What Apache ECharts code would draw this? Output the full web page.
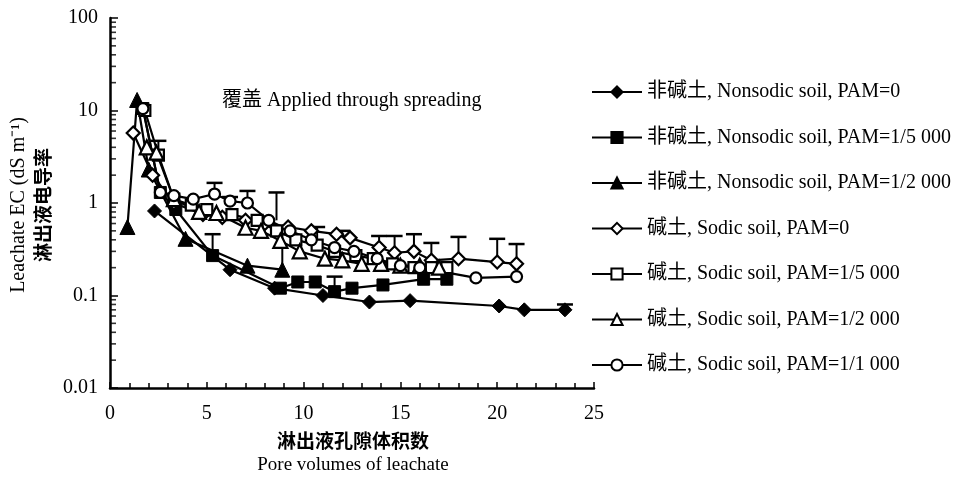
<!DOCTYPE html>
<html>
<head>
<meta charset="utf-8">
<script src="https://cdn.jsdelivr.net/npm/echarts@6/dist/echarts.min.js"></script>
<style>
  html, body { margin: 0; padding: 0; background: #fff; }
  #chart { width: 960px; height: 484px; }
</style>
</head>
<body>
<div id="chart"></div>
<script>
// series names (legend order)
const seriesNames = [
  '非碱土, Nonsodic soil, PAM=0',
  '非碱土, Nonsodic soil, PAM=1/5 000',
  '非碱土, Nonsodic soil, PAM=1/2 000',
  '碱土, Sodic soil, PAM=0',
  '碱土, Sodic soil, PAM=1/5 000',
  '碱土, Sodic soil, PAM=1/2 000',
  '碱土, Sodic soil, PAM=1/1 000'
]

// nonsodic, PAM=0 (filled diamond)
const nsPam0X = [2.3, 6.2, 8.5, 11.0, 13.4, 15.5, 20.1, 21.4, 23.5]
const nsPam0Y = [0.82, 0.19, 0.12, 0.1, 0.085, 0.088, 0.077, 0.07, 0.07]
// nonsodic, PAM=1/5000 (filled square)
const nsPam5000X = [1.7, 2.6, 3.4, 5.3, 8.8, 9.7, 10.6, 11.6, 12.5, 14.1, 16.2, 17.4]
const nsPam5000Y = [10.5, 1.3, 0.85, 0.27, 0.12, 0.14, 0.14, 0.11, 0.12, 0.13, 0.15, 0.15]
// nonsodic, PAM=1/2000 (filled triangle)
const nsPam2000X = [0.9, 1.4, 2.0, 3.9, 7.1, 8.9]
const nsPam2000Y = [0.55, 13, 2.3, 0.41, 0.21, 0.19]
// sodic, PAM=0 (open diamond)
const sPam0X = [1.2, 2.2, 3.3, 4.8, 5.8, 7.0, 8.0, 9.2, 10.4, 11.7, 12.4, 13.9, 14.7, 15.7, 16.6, 18.0, 20.0, 21.0]
const sPam0Y = [5.7, 2.0, 1.0, 0.75, 0.7, 0.65, 0.6, 0.55, 0.5, 0.46, 0.42, 0.33, 0.29, 0.3, 0.24, 0.25, 0.23, 0.22]
// sodic, PAM=1/5000 (open square)
const sPam5000X = [1.8, 2.5, 3.3, 4.2, 5.0, 6.3, 7.6, 8.6, 9.6, 10.7, 11.6, 12.7, 13.6, 14.6, 15.7, 16.6, 17.4]
const sPam5000Y = [10, 3.3, 1.1, 0.95, 0.85, 0.75, 0.65, 0.5, 0.4, 0.35, 0.3, 0.27, 0.25, 0.22, 0.2, 0.2, 0.2]
// sodic, PAM=1/2000 (open triangle)
const sPam2000X = [1.9, 2.4, 3.3, 4.6, 5.5, 7.0, 7.8, 8.8, 9.8, 11.1, 12.0, 13.0, 14.0, 15.0, 16.0, 17.0]
const sPam2000Y = [4.0, 3.5, 1.1, 0.8, 0.78, 0.54, 0.5, 0.39, 0.3, 0.25, 0.24, 0.22, 0.22, 0.21, 0.21, 0.2]
// sodic, PAM=1/1000 (open circle)
const sPam1000X = [1.7, 2.6, 3.3, 4.3, 5.4, 6.2, 7.1, 8.2, 9.3, 10.4, 11.6, 12.6, 13.8, 15.0, 16.0, 18.9, 21.0]
const sPam1000Y = [10.5, 1.3, 1.2, 1.1, 1.25, 1.05, 1.0, 0.65, 0.5, 0.4, 0.33, 0.3, 0.25, 0.21, 0.2, 0.155, 0.16]

// error bars (upper only): x, mean, top
const errX = [2.5, 5.3, 5.4, 6.2, 7.1, 8.6, 8.9, 10.7, 12.0, 13.9, 14.7, 15.7, 16.6, 18.0, 20.0, 21.0, 11.6, 23.5]
const errLow = [3.3, 0.27, 1.25, 1.05, 1.0, 0.65, 0.19, 0.4, 0.42, 0.33, 0.29, 0.3, 0.24, 0.25, 0.23, 0.22, 0.11, 0.07]
const errHigh = [4.7, 0.46, 1.65, 1.16, 1.35, 1.3, 0.46, 0.55, 0.5, 0.44, 0.44, 0.46, 0.37, 0.43, 0.41, 0.36, 0.16, 0.08]

// y axis decades and the log minor ticks between them
const yTicks = [0.01, 0.1, 1, 10, 100]
const yMinorSteps = [2, 3, 4, 5, 6, 7, 8, 9]

const serif = 'Liberation Serif, Noto Sans CJK SC'

const allX = [nsPam0X, nsPam5000X, nsPam2000X, sPam0X, sPam5000X, sPam2000X, sPam1000X]
const allY = [nsPam0Y, nsPam5000Y, nsPam2000Y, sPam0Y, sPam5000Y, sPam2000Y, sPam1000Y]
const symbols = ['diamond', 'rect', 'triangle', 'diamond', 'rect', 'triangle', 'circle']
const sizes = [14, 12, 15, 13, 11, 14, 11]
const filled = [true, true, true, false, false, false, false]

const minorVals = []
yTicks.slice(0, -1).forEach(d => yMinorSteps.forEach(s => minorVals.push(d * s)))

const chart = echarts.init(document.getElementById('chart'))

const lineSeries = seriesNames.map((name, i) => ({
  name: name,
  type: 'line',
  data: allX[i].map((x, j) => [x, allY[i][j]]),
  symbol: symbols[i],
  symbolSize: sizes[i],
  showAllSymbol: true,
  lineStyle: { color: '#000', width: 2.2 },
  itemStyle: filled[i]
    ? { color: '#000', borderColor: '#000', borderWidth: 1 }
    : { color: '#fff', borderColor: '#000', borderWidth: 2.2 },
  z: 3,
  animation: false
}))

const errSeries = {
  type: 'custom',
  name: 'err',
  data: errX.map((x, i) => [x, errLow[i], errHigh[i]]),
  encode: { x: 0, y: [1, 2] },
  z: 2,
  renderItem: function (params, api) {
    const p0 = api.coord([api.value(0), api.value(1)])
    const p1 = api.coord([api.value(0), api.value(2)])
    const w = 8
    return {
      type: 'group',
      children: [
        { type: 'line', shape: { x1: p0[0], y1: p0[1], x2: p1[0], y2: p1[1] }, style: { stroke: '#000', lineWidth: 2 } },
        { type: 'line', shape: { x1: p1[0] - w, y1: p1[1], x2: p1[0] + w, y2: p1[1] }, style: { stroke: '#000', lineWidth: 2.5 } }
      ]
    }
  },
  animation: false
}

// log-spaced minor ticks on the y axis: thin rect symbols sitting on the axis
const minorTickSeries = {
  type: 'scatter',
  name: 'yminor',
  data: minorVals.map(v => [0, v]),
  symbol: 'rect',
  symbolSize: [6, 1.6],
  symbolOffset: [3, 0],
  itemStyle: { color: '#000' },
  clip: false,
  silent: true,
  z: 5,
  animation: false
}

const option = {
  backgroundColor: '#fff',
  animation: false,
  grid: { left: 110, top: 18, width: 484, height: 370 },
  legend: {
    data: seriesNames,
    orient: 'vertical',
    left: 586,
    top: 77,
    itemWidth: 50,
    itemHeight: 14,
    itemGap: 25.5,
    textStyle: { fontFamily: serif, fontSize: 20, color: '#000' }
  },
  xAxis: {
    type: 'value',
    min: 0,
    max: 25,
    interval: 5,
    axisLine: { lineStyle: { color: '#000', width: 2.5 } },
    axisTick: { inside: true, length: 6, lineStyle: { color: '#000', width: 1.5 } },
    minorTick: { show: true, splitNumber: 5, length: 5, lineStyle: { color: '#000', width: 1.5 } },
    splitLine: { show: false },
    axisLabel: { fontFamily: serif, fontSize: 20, color: '#000', margin: 16 }
  },
  yAxis: {
    type: 'log',
    min: yTicks[0],
    max: yTicks[yTicks.length - 1],
    logBase: 10,
    axisLine: { show: true, lineStyle: { color: '#000', width: 2.5 } },
    axisTick: { inside: true, length: 8, lineStyle: { color: '#000', width: 1.5 } },
    minorTick: { show: false },
    splitLine: { show: false },
    axisLabel: { fontFamily: serif, fontSize: 20, color: '#000', margin: 12 }
  },
  graphic: [
    { type: 'text', left: 222, top: 91, style: { text: '覆盖 Applied through spreading', font: '20px ' + serif, fill: '#000' } },
    { type: 'text', x: 353, y: 441, style: { text: '淋出液孔隙体积数', font: 'bold 19px Noto Sans CJK SC', fill: '#000', align: 'center', verticalAlign: 'middle' } },
    { type: 'text', x: 353, y: 465, style: { text: 'Pore volumes of leachate', font: '19px ' + serif, fill: '#000', align: 'center', verticalAlign: 'middle' } },
    { type: 'text', x: 19, y: 205, rotation: Math.PI / 2, style: { text: 'Leachate EC (dS m⁻¹)', font: '20px ' + serif, fill: '#000', align: 'center', verticalAlign: 'middle' } },
    { type: 'text', x: 43, y: 205, rotation: Math.PI / 2, style: { text: '淋出液电导率', font: 'bold 19px Noto Sans CJK SC', fill: '#000', align: 'center', verticalAlign: 'middle' } }
  ],
  series: [errSeries, minorTickSeries].concat(lineSeries)
}

chart.setOption(option)
</script>
</body>
</html>
